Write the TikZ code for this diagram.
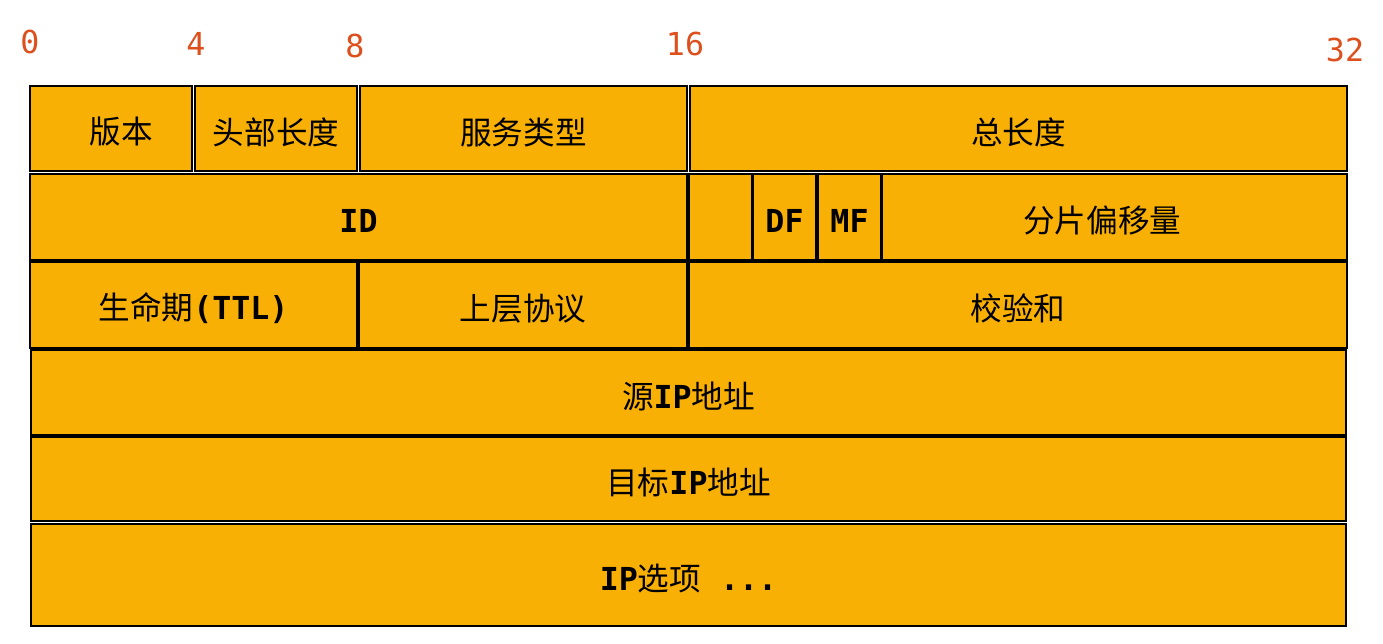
\documentclass[tikz,border=0pt]{standalone}
\usepackage{fontspec}
\setmainfont{DejaVu Sans Mono}
\newfontfamily\cjk{Noto Sans CJK SC}
\definecolor{fieldfill}{HTML}{F9B005}
\definecolor{bitnum}{HTML}{DD4F1C}
\newcommand{\zh}[1]{{\cjk\mdseries #1}}
\begin{document}
\begin{tikzpicture}[x=0.02cm,y=-0.02cm,
  field/.style={draw=black,line width=0.9pt,fill=fieldfill},
  lbl/.style={font=\fontsize{18}{21}\selectfont\bfseries,text=black,inner sep=0pt,yshift=-2},
  bit/.style={font=\fontsize{18}{21}\selectfont,text=bitnum,inner sep=0pt}]
\useasboundingbox (0,0) rectangle (1383,644);
% row 1
\draw[field] (30,86) rectangle (192,171) node[lbl,midway,xshift=6] (ver) {\zh{版本}};
\draw[field] (195,86) rectangle (357,171) node[lbl,midway] (hlen) {\zh{头部长度}};
\draw[field] (360,86) rectangle (687,171) node[lbl,midway] (tos) {\zh{服务类型}};
\draw[field] (690,86) rectangle (1347,171) node[lbl,midway] (tlen) {\zh{总长度}};
% row 2
\draw[field] (30,174) rectangle (687,260) node[lbl,midway] (id) {ID};
\draw[field] (689,174) rectangle (752,260) node[midway] (rsv) {};
\draw[field] (753,174) rectangle (816,260) node[lbl,midway] (df) {DF};
\draw[field] (818,174) rectangle (881,260) node[lbl,midway] (mf) {MF};
\draw[field] (882,174) rectangle (1347,260) node[lbl,midway,xshift=-7] (off) {\zh{分片偏移量}};
% row 3
\draw[field] (30,262) rectangle (357,348) node[lbl,midway] (ttl) {\zh{生命期}(TTL)};
\draw[field] (359,262) rectangle (687,348) node[lbl,midway] (proto) {\zh{上层协议}};
\draw[field] (689,262) rectangle (1347,348) node[lbl,midway] (csum) {\zh{校验和}};
% rows 4-6
\draw[field] (31,350) rectangle (1346,435) node[lbl,midway] (src) {\zh{源}IP\zh{地址}};
\draw[field] (31,437) rectangle (1346,521) node[lbl,midway] (dst) {\zh{目标}IP\zh{地址}};
\draw[field] (31,524) rectangle (1346,626) node[lbl,midway] (opt) {IP\zh{选项} ...};
% bit numbers
\node[bit] (b0) at (30,42) {0};
\node[bit] (b4) at (196,44) {4};
\node[bit] (b8) at (355,46) {8};
\node[bit] (b16) at (685,44) {16};
\node[bit] (b32) at (1345,50) {32};
\end{tikzpicture}
\end{document}
